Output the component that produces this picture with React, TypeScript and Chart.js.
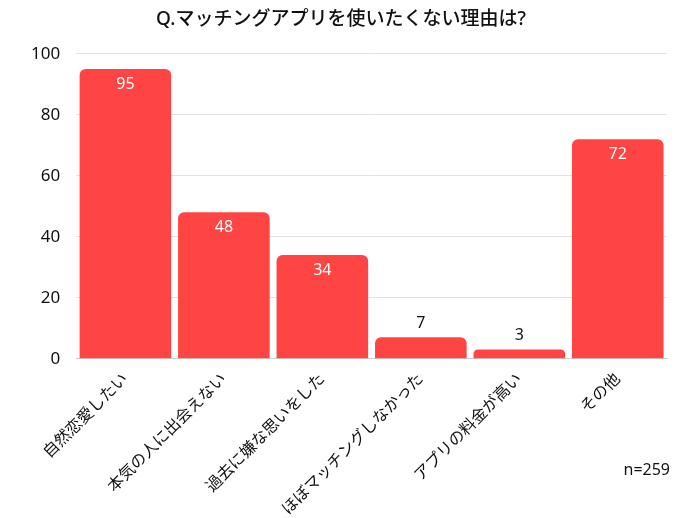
import React, { useEffect, useRef } from "react";
import { Chart, registerables } from "chart.js";

Chart.register(...registerables);

const categories = [
  "自然恋愛したい",
  "本気の人に出会えない",
  "過去に嫌な思いをした",
  "ほぼマッチングしなかった",
  "アプリの料金が高い",
  "その他",
];
const values = [95, 48, 34, 7, 3, 72];
const yTicks = [0, 20, 40, 60, 80, 100];
const titleText = "Q.マッチングアプリを使いたくない理由は?";
const noteText = "n=259";

const FONT = "'Noto Sans', 'Noto Sans CJK JP', sans-serif";

const labelPlugin = {
  id: "barLabels",
  afterDatasetsDraw(chart: any) {
    const ctx = chart.ctx;
    const meta = chart.getDatasetMeta(0);
    ctx.save();
    ctx.font = `16px ${FONT}`;
    ctx.textAlign = "center";
    ctx.textBaseline = "middle";
    meta.data.forEach((bar: any, i: number) => {
      const v = values[i];
      if (v >= 20) {
        ctx.fillStyle = "#ffffff";
        ctx.fillText(String(v), bar.x, bar.y + 15);
      } else {
        ctx.fillStyle = "#111111";
        ctx.fillText(String(v), bar.x, bar.y - 14);
      }
    });
    ctx.font = `16px ${FONT}`;
    ctx.fillStyle = "#111111";
    ctx.textAlign = "right";
    ctx.fillText(noteText, chart.width - 30, 470);
    ctx.restore();
  },
};

export default function App() {
  const ref = useRef<HTMLCanvasElement>(null);
  useEffect(() => {
    document.body.style.margin = "0";
    const chart = new Chart(ref.current!, {
      type: "bar",
      data: {
        labels: categories,
        datasets: [
          {
            data: values,
            backgroundColor: "#ff4444",
            borderRadius: 6,
            barPercentage: 0.93,
            categoryPercentage: 1,
          },
        ],
      },
      options: {
        animation: false,
        responsive: false,
        layout: { padding: { left: 15, right: 33, bottom: -4, top: 8 } },
        plugins: {
          legend: { display: false },
          tooltip: { enabled: false },
          title: {
            display: true,
            text: titleText,
            color: "#111111",
            font: { family: FONT, size: 19, weight: "500" },
            padding: { top: 0, bottom: 23 },
          },
        },
        scales: {
          x: {
            grid: { display: false },
            border: { color: "#cccccc" },
            ticks: {
              color: "#111111",
              font: { family: FONT, size: 16 },
              maxRotation: 45,
              minRotation: 45,
              autoSkip: false,
            },
          },
          y: {
            min: 0,
            max: 100,
            afterBuildTicks: (axis: any) => {
              axis.ticks = yTicks.map((v) => ({ value: v }));
            },
            grid: { color: "#e2e2e2", drawTicks: false },
            border: { display: false },
            ticks: {
              color: "#111111",
              font: { family: FONT, size: 17 },
              padding: 16,
            },
          },
        },
      },
      plugins: [labelPlugin],
    });
    return () => chart.destroy();
  }, []);
  return (
    <div style={{ width: 700, height: 518 }}>
      <canvas ref={ref} width={700} height={518} />
    </div>
  );
}
